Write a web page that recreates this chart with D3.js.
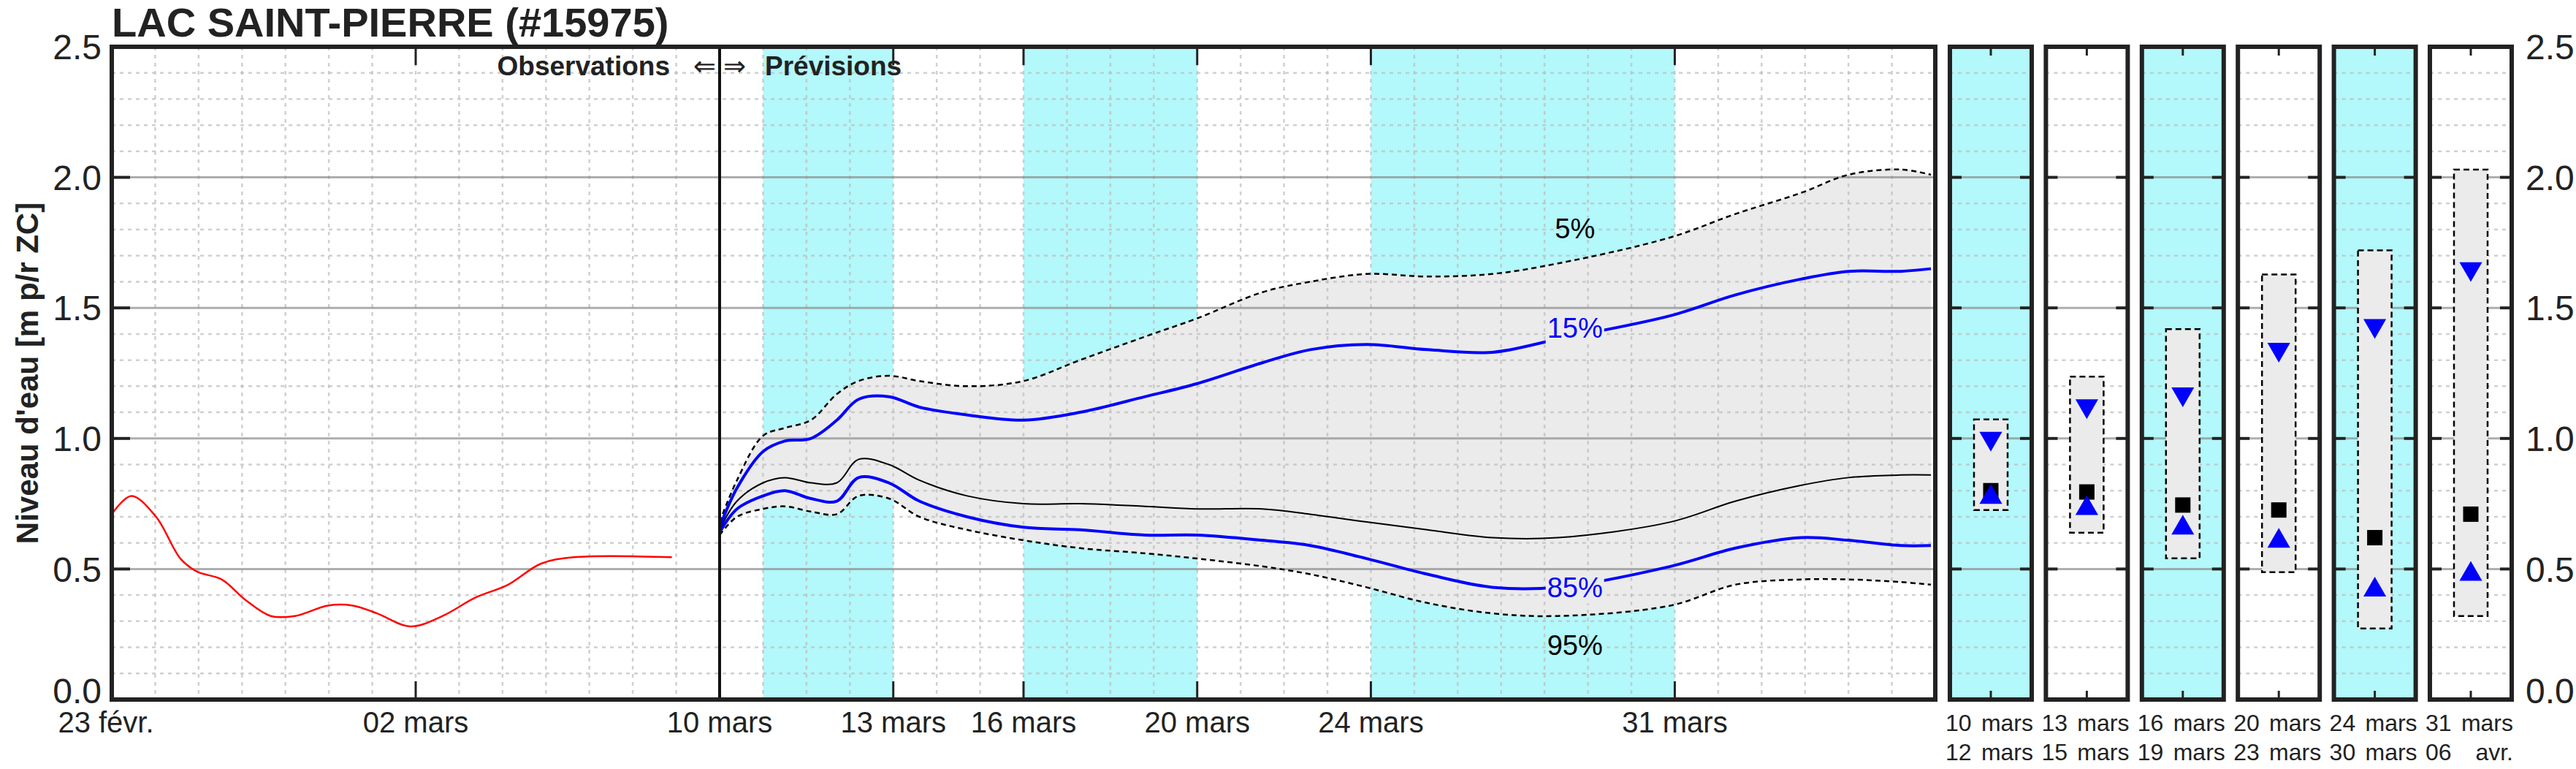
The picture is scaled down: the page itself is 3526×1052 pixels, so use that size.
<!DOCTYPE html>
<html>
<head>
  <meta charset="utf-8">
  <title>Lac Saint-Pierre</title>
  <style>
    body { margin: 0; background: #fff; font-family: "Liberation Sans", Arial, sans-serif; }
    text { fill: #222; }
  </style>
  <script src="https://d3js.org/d3.v7.min.js"></script>
</head>
<body>
<script>
  // jours comptés depuis le 23 févr.
  var obsDays = [0, 0.45, 1.02, 1.58, 1.96, 2.53, 3.09, 3.66, 4.22, 4.98, 5.55, 6.11, 6.87, 7.62, 8.37, 9.13, 9.88, 10.64, 12.9];
  var obsValues = [0.71, 0.78, 0.70, 0.54, 0.49, 0.46, 0.38, 0.32, 0.32, 0.36, 0.36, 0.33, 0.28, 0.32, 0.39, 0.44, 0.52, 0.545, 0.545];

  var fcDays = [14, 14.4, 15, 15.5, 16.1, 16.7, 17.2, 17.9, 18.6, 19.7, 21, 22.3, 23.8, 25, 26.5, 27.6, 28.9, 30.3, 31.8, 33.3, 35.9, 37.4, 38.9, 40, 41.2, 41.9];
  var p05 = [0.68, 0.84, 1.01, 1.04, 1.07, 1.17, 1.22, 1.24, 1.22, 1.20, 1.22, 1.30, 1.39, 1.46, 1.56, 1.60, 1.63, 1.62, 1.63, 1.67, 1.77, 1.86, 1.94, 2.01, 2.03, 2.01];
  var p15 = [0.66, 0.81, 0.95, 0.99, 1.00, 1.07, 1.15, 1.16, 1.12, 1.09, 1.07, 1.10, 1.16, 1.21, 1.29, 1.34, 1.36, 1.34, 1.33, 1.38, 1.47, 1.55, 1.61, 1.64, 1.64, 1.65];
  var p50 = [0.65, 0.76, 0.83, 0.85, 0.83, 0.83, 0.92, 0.90, 0.84, 0.78, 0.75, 0.75, 0.74, 0.73, 0.73, 0.71, 0.68, 0.65, 0.62, 0.62, 0.68, 0.76, 0.82, 0.85, 0.86, 0.86];
  var p85 = [0.64, 0.73, 0.78, 0.80, 0.77, 0.76, 0.85, 0.83, 0.76, 0.70, 0.66, 0.65, 0.63, 0.63, 0.61, 0.59, 0.54, 0.48, 0.43, 0.43, 0.51, 0.58, 0.62, 0.61, 0.59, 0.59];
  var p95 = [0.63, 0.70, 0.73, 0.74, 0.72, 0.71, 0.78, 0.77, 0.70, 0.65, 0.61, 0.58, 0.56, 0.54, 0.51, 0.48, 0.43, 0.37, 0.33, 0.32, 0.36, 0.44, 0.46, 0.46, 0.45, 0.44];

  var tickDays = [0, 7, 14, 18, 21, 25, 29, 36];
  var tickLabels = ["23 févr.", "02 mars", "10 mars", "13 mars", "16 mars", "20 mars", "24 mars", "31 mars"];
  var bandStarts = [15, 21, 29];
  var bandEnds = [18, 25, 36];

  var periodStart = ["10", "13", "16", "20", "24", "31"];
  var periodEnd = ["12", "15", "19", "23", "30", "06"];
  var periodMonthA = ["mars", "mars", "mars", "mars", "mars", "mars"];
  var periodMonthB = ["mars", "mars", "mars", "mars", "mars", "avr."];
  var boxHi = [1.073, 1.237, 1.419, 1.628, 1.72, 2.03];
  var boxLo = [0.726, 0.639, 0.541, 0.488, 0.272, 0.32];
  var box15 = [1.0, 1.125, 1.17, 1.341, 1.432, 1.65];
  var box50 = [0.80, 0.795, 0.745, 0.726, 0.62, 0.71];
  var box85 = [0.775, 0.732, 0.657, 0.607, 0.42, 0.48];
  var panelCyan = [true, false, true, false, true, false];

  var yTicks = [0, 0.5, 1.0, 1.5, 2.0, 2.5];

  var W = 3526, H = 1052;
  var svg = d3.select("body").append("svg").attr("width", W).attr("height", H);

  var x = d3.scaleLinear().domain([0, 42]).range([153, 2649]);
  var y = d3.scaleLinear().domain([0, 2.5]).range([957, 64]);
  var yTop = y(2.5), yBot = y(0);
  var curve = d3.curveCatmullRom;

  // bandes cyan
  svg.selectAll(".band").data(bandStarts).enter().append("rect")
    .attr("x", d => x(d)).attr("y", yTop)
    .attr("width", (d, i) => x(bandEnds[i]) - x(d)).attr("height", yBot - yTop)
    .attr("fill", "#b3f8fb");

  // enveloppe 5-95
  var area = d3.area().curve(curve)
    .x((d, i) => x(fcDays[i])).y0((d, i) => y(p95[i])).y1(d => y(d));
  svg.append("path").datum(p05).attr("d", area).attr("fill", "#ebebeb");

  function isMajor(v) { return Math.round(v * 10) % 5 === 0; }

  // grille
  var grid = svg.append("g");
  grid.selectAll(".vg").data(d3.range(1, 42)).enter().append("line")
    .attr("x1", d => x(d)).attr("x2", d => x(d)).attr("y1", yTop).attr("y2", yBot)
    .attr("stroke", "#bdbdbd").attr("stroke-width", 2.5).attr("stroke-dasharray", "5,6").attr("opacity", 0.7);
  var hvals = d3.range(1, 25).map(d => d / 10);
  grid.selectAll(".hg").data(hvals).enter().append("line")
    .attr("x1", x(0)).attr("x2", x(42)).attr("y1", d => y(d)).attr("y2", d => y(d))
    .attr("stroke", d => isMajor(d) ? "#8c8c8c" : "#bdbdbd")
    .attr("stroke-width", d => isMajor(d) ? 3 : 2.5)
    .attr("stroke-dasharray", d => isMajor(d) ? null : "5,6").attr("opacity", 0.7);

  var line = d3.line().curve(curve).x((d, i) => x(fcDays[i])).y(d => y(d));
  [[p05, "#000", 2.5, "7,5"], [p95, "#000", 2.5, "7,5"], [p50, "#000", 2, null], [p15, "#0000ff", 4, null], [p85, "#0000ff", 4, null]]
    .forEach(function (s) {
      svg.append("path").datum(s[0]).attr("d", line).attr("fill", "none")
        .attr("stroke", s[1]).attr("stroke-width", s[2]).attr("stroke-dasharray", s[3]);
    });

  var obsLine = d3.line().curve(curve).x((d, i) => x(obsDays[i])).y(d => y(d));
  svg.append("path").datum(obsValues).attr("d", obsLine).attr("fill", "none").attr("stroke", "#ff0000").attr("stroke-width", 2.5);

  // étiquettes des centiles
  var li = 19;
  function pctLabel(txt, val, dy, col, bg) {
    var g = svg.append("g").attr("transform", "translate(" + x(fcDays[li] + 0.4) + "," + (y(val) + dy) + ")");
    if (bg) g.append("rect").attr("x", -40).attr("y", -22).attr("width", 80).attr("height", 44).attr("fill", "#ebebeb");
    g.append("text").attr("text-anchor", "middle").attr("dy", "0.36em").attr("font-size", 38).style("fill", col).text(txt);
  }
  pctLabel("5%", p05[li], -48, "#000", false);
  pctLabel("15%", p15[li], -16, "#0000ff", true);
  pctLabel("85%", p85[li], 0, "#0000ff", true);
  pctLabel("95%", p95[li], 40, "#000", false);

  // ligne obs / prév
  svg.append("line").attr("x1", x(14)).attr("x2", x(14)).attr("y1", yTop).attr("y2", yBot).attr("stroke", "#111").attr("stroke-width", 4);
  svg.append("text").attr("x", x(14) - 68).attr("y", 103).attr("text-anchor", "end").attr("font-size", 37).attr("font-weight", "bold").text("Observations");
  svg.append("text").attr("x", x(14)).attr("y", 103).attr("text-anchor", "middle").attr("font-size", 37).text("\u21d0 \u21d2");
  svg.append("text").attr("x", x(14) + 62).attr("y", 103).attr("font-size", 37).attr("font-weight", "bold").text("Prévisions");

  // ticks
  var mt = tickDays.filter(d => d > 0 && d !== 14);
  svg.selectAll(".tb").data(mt).enter().append("line").attr("x1", d => x(d)).attr("x2", d => x(d))
    .attr("y1", yBot).attr("y2", yBot - 25).attr("stroke", "#222").attr("stroke-width", 3);
  svg.selectAll(".tt").data(mt).enter().append("line").attr("x1", d => x(d)).attr("x2", d => x(d))
    .attr("y1", yTop).attr("y2", yTop + 25).attr("stroke", "#222").attr("stroke-width", 3);
  svg.selectAll(".yt").data(yTicks).enter().append("line").attr("x1", x(0)).attr("x2", x(0) + 25)
    .attr("y1", d => y(d)).attr("y2", d => y(d)).attr("stroke", "#222").attr("stroke-width", 4);
  svg.selectAll(".xl").data(tickDays).enter().append("text")
    .attr("x", (d, i) => i === 0 ? x(d) - 8 : x(d)).attr("y", 1002).attr("text-anchor", "middle")
    .attr("font-size", 40).text((d, i) => tickLabels[i]);
  svg.selectAll(".yl").data(yTicks).enter().append("text")
    .attr("x", x(0) - 14).attr("y", d => y(d)).attr("dy", d => d === 0 ? "0.1em" : "0.36em").attr("text-anchor", "end")
    .attr("font-size", 48).text(d => d.toFixed(1));

  svg.append("rect").attr("x", x(0)).attr("y", yTop).attr("width", x(42) - x(0)).attr("height", yBot - yTop)
    .attr("fill", "none").attr("stroke", "#222").attr("stroke-width", 6);

  svg.append("text").attr("x", 153).attr("y", 50).attr("font-size", 56).attr("font-weight", "bold").text("LAC SAINT-PIERRE (#15975)");
  svg.append("text").attr("transform", "translate(52," + ((yTop + yBot) / 2) + ") rotate(-90)")
    .attr("text-anchor", "middle").attr("font-size", 42).attr("font-weight", "bold").text("Niveau d'eau [m p/r ZC]");

  // panneaux
  var pw = 112, pstep = 131.4, p0 = 2669;
  var panels = svg.selectAll(".panel").data(boxHi).enter().append("g")
    .attr("transform", (d, i) => "translate(" + (p0 + i * pstep) + ",0)");
  panels.append("rect").attr("y", yTop).attr("width", pw).attr("height", yBot - yTop)
    .attr("fill", (d, i) => panelCyan[i] ? "#b3f8fb" : "#fff");
  panels.each(function (d, i) {
    var g = d3.select(this);
    g.selectAll(".h").data(hvals).enter().append("line").attr("x1", 0).attr("x2", pw)
      .attr("y1", v => y(v)).attr("y2", v => y(v))
      .attr("stroke", v => isMajor(v) ? "#8c8c8c" : "#bdbdbd")
      .attr("stroke-width", v => isMajor(v) ? 3 : 2.5)
      .attr("stroke-dasharray", v => isMajor(v) ? null : "5,6").attr("opacity", 0.7);
    yTicks.forEach(function (v) {
      g.append("line").attr("x1", 0).attr("x2", 16).attr("y1", y(v)).attr("y2", y(v)).attr("stroke", "#222").attr("stroke-width", 4);
      g.append("line").attr("x1", pw - 16).attr("x2", pw).attr("y1", y(v)).attr("y2", y(v)).attr("stroke", "#222").attr("stroke-width", 4);
    });
    g.append("line").attr("x1", pw / 2).attr("x2", pw / 2).attr("y1", yTop).attr("y2", yTop + 12).attr("stroke", "#222").attr("stroke-width", 3);
    g.append("line").attr("x1", pw / 2).attr("x2", pw / 2).attr("y1", yBot).attr("y2", yBot - 12).attr("stroke", "#222").attr("stroke-width", 3);
    var cx = pw / 2;
    g.append("rect").attr("x", cx - 23).attr("y", y(boxHi[i])).attr("width", 46).attr("height", y(boxLo[i]) - y(boxHi[i]))
      .attr("fill", "#ebebeb").attr("stroke", "#000").attr("stroke-width", 2.5).attr("stroke-dasharray", "8,5");
    g.append("rect").attr("x", cx - 10.5).attr("y", y(box50[i]) - 10.5).attr("width", 21).attr("height", 21).attr("fill", "#000");
    g.append("path").attr("d", d3.symbol(d3.symbolTriangle, 420)()).attr("fill", "#0000ff")
      .attr("transform", "translate(" + cx + "," + y(box85[i]) + ")");
    g.append("path").attr("d", d3.symbol(d3.symbolTriangle, 420)()).attr("fill", "#0000ff")
      .attr("transform", "translate(" + cx + "," + y(box15[i]) + ") rotate(180)");
    g.append("rect").attr("y", yTop).attr("width", pw).attr("height", yBot - yTop).attr("fill", "none").attr("stroke", "#222").attr("stroke-width", 6);
    g.append("text").attr("x", -6).attr("y", 1000).attr("font-size", 32).text(periodStart[i]);
    g.append("text").attr("x", pw + 2).attr("y", 1000).attr("text-anchor", "end").attr("font-size", 32).text(periodMonthA[i]);
    g.append("text").attr("x", -6).attr("y", 1040).attr("font-size", 32).text(periodEnd[i]);
    g.append("text").attr("x", pw + 2).attr("y", 1040).attr("text-anchor", "end").attr("font-size", 32).text(periodMonthB[i]);
  });

  svg.selectAll(".yr").data(yTicks).enter().append("text")
    .attr("x", 3457).attr("y", d => y(d)).attr("dy", d => d === 0 ? "0.1em" : "0.36em").attr("font-size", 48).text(d => d.toFixed(1));
</script>
</body>
</html>
